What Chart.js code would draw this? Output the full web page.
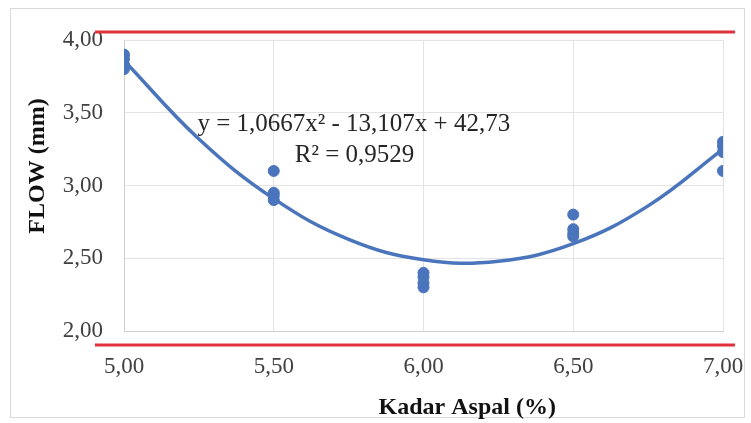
<!DOCTYPE html>
<html>
<head>
  <meta charset="utf-8">
  <title>Flow vs Kadar Aspal</title>
  <script src="https://cdn.jsdelivr.net/npm/chart.js"></script>
  <style>
    body { margin: 0; background: #fff; }
    #wrap { width: 751px; height: 423px; }
  </style>
</head>
<body>
<div id="wrap"><canvas id="flowChart" width="751" height="423"></canvas></div>
<script>
  // measured points (Kadar Aspal %, FLOW mm)
  const kadarAspal = [5.0, 5.0, 5.0, 5.0, 5.5, 5.5, 5.5, 5.5, 6.0, 6.0, 6.0, 6.0, 6.5, 6.5, 6.5, 6.5, 7.0, 7.0, 7.0, 7.0];
  const flow = [3.80, 3.83, 3.87, 3.90, 3.10, 2.95, 2.93, 2.90, 2.40, 2.37, 2.33, 2.30, 2.80, 2.70, 2.67, 2.65, 3.30, 3.27, 3.23, 3.10];

  // trend curve
  const trendX = [5.0, 5.25, 5.5, 5.75, 6.0, 6.25, 6.5, 6.75, 7.0];
  const trendY = [3.86, 3.32, 2.91, 2.63, 2.49, 2.48, 2.60, 2.86, 3.25];

  const xTicks = [5.0, 5.5, 6.0, 6.5, 7.0];
  const yTicks = [2.0, 2.5, 3.0, 3.5, 4.0];

  const equationText = "y = 1,0667x\u00B2 - 13,107x + 42,73";
  const r2Text = "R\u00B2 = 0,9529";

  const fmt = (v) => v.toFixed(2).replace(".", ",");
  const serif = "'Liberation Serif', 'Times New Roman', serif";

  const decorations = {
    id: "decorations",
    beforeDraw(chart) {
      const ctx = chart.ctx;
      ctx.save();
      ctx.fillStyle = "#ffffff";
      ctx.fillRect(0, 0, chart.width, chart.height);
      ctx.strokeStyle = "#d9d9d9";
      ctx.lineWidth = 1;
      ctx.strokeRect(10.5, 8.5, chart.width - 17, chart.height - 14);
      ctx.restore();
    },
    afterDraw(chart) {
      const ctx = chart.ctx;
      const area = chart.chartArea;
      const x = chart.scales.x;
      const y = chart.scales.y;
      ctx.save();
      // red limit lines
      ctx.strokeStyle = "#e0303a";
      ctx.lineWidth = 3;
      ctx.beginPath();
      ctx.moveTo(area.left - 29, y.getPixelForValue(4.0) - 8);
      ctx.lineTo(area.right + 12, y.getPixelForValue(4.0) - 8);
      ctx.moveTo(area.left - 29, area.bottom + 14);
      ctx.lineTo(area.right + 12, area.bottom + 14);
      ctx.stroke();

      // equation labels
      ctx.fillStyle = "#262626";
      ctx.font = "25px " + serif;
      ctx.textBaseline = "middle";
      ctx.textAlign = "left";
      ctx.fillText(equationText, x.getPixelForValue(5.245), y.getPixelForValue(3.42));
      ctx.fillText(r2Text, x.getPixelForValue(5.57), y.getPixelForValue(3.21));

      // axis titles
      ctx.fillStyle = "#111111";
      ctx.font = "bold 24px " + serif;
      ctx.textAlign = "center";
      ctx.fillText("Kadar Aspal (%)", area.left + (area.right - area.left) * 0.573, chart.height - 15);
      ctx.translate(38, area.top + (area.bottom - area.top) * 0.433);
      ctx.rotate(-Math.PI / 2);
      ctx.fillText("FLOW (mm)", 0, 0);
      ctx.restore();
    }
  };

  new Chart(document.getElementById("flowChart"), {
    type: "scatter",
    data: {
      datasets: [
        {
          label: "FLOW",
          data: kadarAspal.map((k, i) => ({ x: k, y: flow[i] })),
          backgroundColor: "#4a74bb",
          borderColor: "#4a74bb",
          pointRadius: 5.5,
          order: 1
        },
        {
          label: "Trend",
          type: "line",
          data: trendX.map((k, i) => ({ x: k, y: trendY[i] })),
          borderColor: "#4a74bb",
          borderWidth: 3.5,
          pointRadius: 0,
          tension: 0.4,
          fill: false,
          order: 2
        }
      ]
    },
    options: {
      responsive: false,
      animation: false,
      layout: { padding: { top: 40, right: 28, left: 0, bottom: 0 } },
      plugins: {
        legend: { display: false },
        tooltip: { enabled: false }
      },
      scales: {
        x: {
          type: "linear",
          min: 5,
          max: 7,
          afterBuildTicks: (s) => { s.ticks = xTicks.map(v => ({ value: v })); },
          afterFit: (s) => { s.height = 92; s.paddingLeft = 0; s.paddingRight = 0; },
          grid: { color: "#e3e3e3", drawTicks: false },
          border: { color: "#d0d0d0" },
          ticks: {
            callback: (v) => fmt(v),
            color: "#404040",
            font: { family: serif, size: 23 },
            padding: 22
          }
        },
        y: {
          min: 2,
          max: 4,
          afterBuildTicks: (s) => { s.ticks = yTicks.map(v => ({ value: v })); },
          afterFit: (s) => { s.width = 124; },
          grid: { color: "#e3e3e3", drawTicks: false },
          border: { color: "#d0d0d0" },
          ticks: {
            callback: (v) => fmt(v),
            color: "#404040",
            font: { family: serif, size: 23 },
            padding: 21
          }
        }
      }
    },
    plugins: [decorations]
  });
</script>
</body>
</html>
